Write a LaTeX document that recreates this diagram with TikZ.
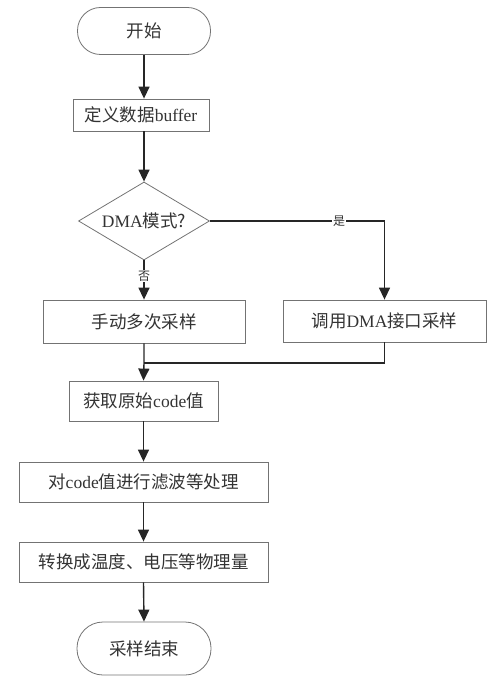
\documentclass[tikz,border=0pt]{standalone}
\usepackage{fontspec}
\setmainfont{Liberation Serif}
\newfontfamily\cjk{Noto Sans CJK SC}[Scale=1]
\usetikzlibrary{shapes.geometric,arrows.meta}
\begin{document}
\begin{tikzpicture}[x=1pt,y=-1pt,
  box/.style={draw=black!55,line width=0.8pt,rectangle,inner sep=0pt,text=black!80,font=\fontsize{17.5}{19}\selectfont},
  term/.style={box,rounded corners=#1},
  dec/.style={box,diamond,aspect=1.7},
  arr/.style={line width=1.4pt,black!85,-{Triangle[length=12pt,width=11pt]}},
  ln/.style={line width=1.4pt,black!85},
  lab/.style={fill=white,inner sep=1pt,text=black!80,font=\fontsize{12}{13}\selectfont}]
\useasboundingbox (0,0) rectangle (499,684);
\node[term=23pt,minimum width=133pt,minimum height=47pt] (start) at (144,31) {\cjk 开始};
\node[box,minimum width=136pt,minimum height=32pt] (buf) at (141,115) {\cjk 定义数据\rmfamily buffer};
\node[dec,minimum width=131pt,minimum height=78pt] (d) at (144,221) {DMA\cjk 模式?};
\node[box,minimum width=202pt,minimum height=43pt] (man) at (144,321.5) {\cjk 手动多次采样};
\node[box,minimum width=203pt,minimum height=42pt] (dma) at (384.5,321) {\cjk 调用\rmfamily DMA\cjk 接口采样};
\node[box,minimum width=149pt,minimum height=40pt] (get) at (143.5,401) {\cjk 获取原始\rmfamily code\cjk 值};
\node[box,minimum width=249pt,minimum height=40pt] (filt) at (143.5,482) {\cjk 对\rmfamily code\cjk 值进行滤波等处理};
\node[box,minimum width=249pt,minimum height=40pt] (conv) at (143.5,562) {\cjk 转换成温度、电压等物理量};
\node[term=26pt,minimum width=134pt,minimum height=53pt] (end) at (144,648.5) {\cjk 采样结束};
\coordinate (m) at (144,363);
\draw[arr] (start.south) -- (start.south |- buf.north);
\draw[arr] (start.south |- buf.south) -- (d.north);
\draw[arr] (d.east) -- (dma.north |- d.east) node[lab,pos=0.74] {\cjk 是} -- (dma.north);
\draw[arr] (d.south) -- node[lab,pos=0.4] {\cjk 否} (man.north);
\draw[arr] (man.south) -- (m) -- (get.north);
\draw[ln] (dma.south) |- (m);
\draw[arr] (get.south) -- (filt.north);
\draw[arr] (filt.south) -- (conv.north);
\draw[arr] (conv.south) -- (end.north);
\end{tikzpicture}
\end{document}
